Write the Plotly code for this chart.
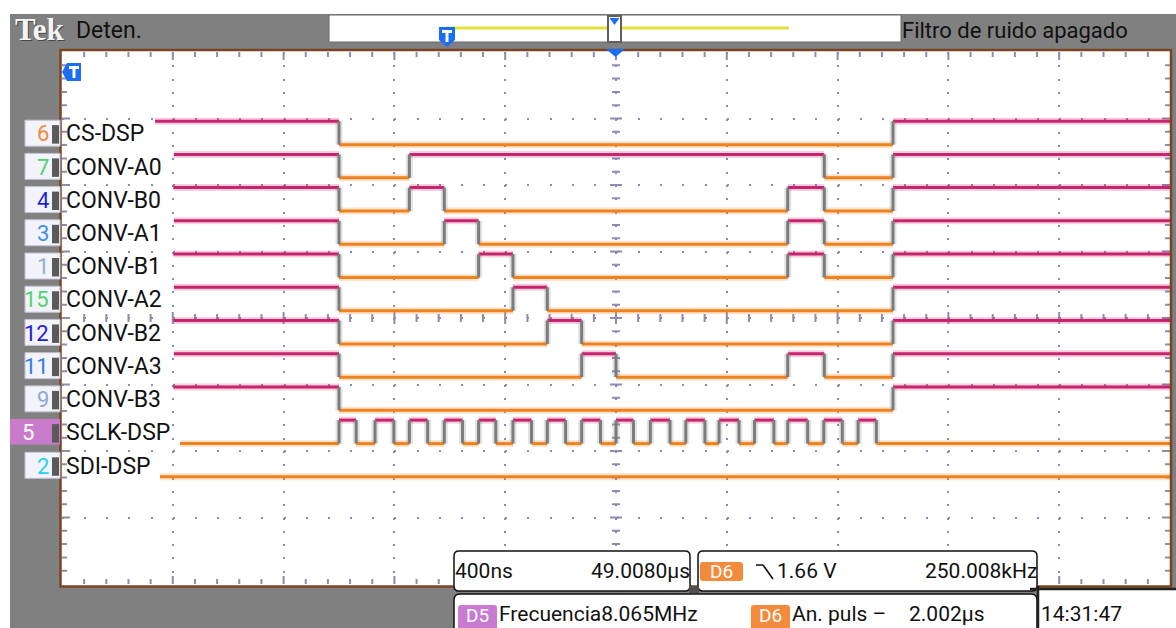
import plotly.graph_objects as go

# ---------------- data ----------------
channel_names = ["CS-DSP", "CONV-A0", "CONV-B0", "CONV-A1", "CONV-B1", "CONV-A2",
                 "CONV-B2", "CONV-A3", "CONV-B3", "SCLK-DSP", "SDI-DSP"]
channel_numbers = ["6", "7", "4", "3", "1", "15", "12", "11", "9", "5", "2"]
number_colors = ["#f28a3c", "#4fd36b", "#1f1fe0", "#3f8fe8", "#8fb0d4", "#4fd36b",
                 "#1f1fe0", "#2f7fe8", "#8fa8cc", "#ffffff", "#1fd3f0"]
initial_state = [1, 1, 1, 1, 1, 1, 1, 1, 1, 0, 0]
trace_start_ns = [-1664, -1596, -1598, -1596, -1598, -1596, -1598, -1596, -1598, -1574, -1646]
sclk_rise_ns = [-1000, -870, -746, -620, -496, -372, -248, -124, 0, 124, 252, 372, 500, 620, 750, 874]
sclk_fall_ns = [-938, -802, -680, -554, -434, -305, -182, -56, 63, 195, 321, 444, 570, 692, 817, 940]
edges_ns = [
    [-1000, 1000],                             # CS-DSP
    [-1000, -746, 752, 1000],                  # CONV-A0
    [-1000, -746, -620, 620, 752, 1000],       # CONV-B0
    [-1000, -620, -496, 620, 752, 1000],       # CONV-A1
    [-1000, -496, -372, 620, 752, 1000],       # CONV-B1
    [-1000, -372, -248, 1000],                 # CONV-A2
    [-1000, -248, -124, 1000],                 # CONV-B2
    [-1000, -124, 0, 620, 752, 1000],          # CONV-A3
    [-1000, 1000],                             # CONV-B3
    sorted(sclk_rise_ns + sclk_fall_ns),       # SCLK-DSP
    [],                                        # SDI-DSP
]
selected_channel = "5"
readout_timebase = "400ns"
readout_position = "49.0080µs"
readout_trigger_level = "1.66 V"
readout_trigger_freq = "250.008kHz"
meas1_label, meas1_value = "Frecuencia", "8.065MHz"
meas2_label, meas2_value = "An. puls –", "2.002µs"
clock_text = "14:31:47"

# ---------------- geometry / style ----------------
W, H = 1176, 628
PL, PR, PT, PB = 62, 1170, 52, 584
X_RANGE = (-2000, 2000)      # ns, 400 ns / div, 10 div
Y_RANGE = (8, 0)             # divisions from top
CH_TOP0, CH_STEP, CH_AMP = 1.04, 0.4995, 0.353
FONT = "Roboto, DejaVu Sans, sans-serif"
HIGH_C, LOW_C, EDGE_C = "#c8246e", "#f0821e", "#7c7c7c"
GRID_C = "#8c8cae"
BLUE = "#1a6ef5"
BROWN = "#7a4422"


def fx(x):
    return (x - PL) / (PR - PL)


def fy(y):
    return 1 - (y - PT) / (PB - PT)


def div2px(d):
    return PT + d * (PB - PT) / (Y_RANGE[0] - Y_RANGE[1])


def rgba(hexc, a):
    h = hexc.lstrip("#")
    return "rgba(%d,%d,%d,%.2f)" % (int(h[0:2], 16), int(h[2:4], 16), int(h[4:6], 16), a)


# ---------------- waveform traces ----------------
hx, hy, lx, ly, ex, ey = [], [], [], [], [], []
for i in range(len(channel_names)):
    top = CH_TOP0 + CH_STEP * i
    levels = {1: top, 0: top + CH_AMP}
    state = initial_state[i]
    t0 = trace_start_ns[i]
    for t in edges_ns[i] + [X_RANGE[1]]:
        xs, ys = (hx, hy) if state else (lx, ly)
        xs += [t0, t, None]
        ys += [levels[state], levels[state], None]
        if t != X_RANGE[1]:
            ex += [t, t, None]
            ey += [top, top + CH_AMP, None]
            state ^= 1
        t0 = t

fig = go.Figure()
for xs, ys, c in [(lx, ly, LOW_C), (hx, hy, HIGH_C), (ex, ey, EDGE_C)]:
    fig.add_trace(go.Scatter(x=xs, y=ys, mode="lines", hoverinfo="skip",
                             line=dict(color=rgba(c, 0.22), width=7)))
for xs, ys, c in [(lx, ly, LOW_C), (hx, hy, HIGH_C), (ex, ey, EDGE_C)]:
    fig.add_trace(go.Scatter(x=xs, y=ys, mode="lines", hoverinfo="skip",
                             line=dict(color=c, width=3)))

# ---------------- shapes ----------------
shapes = []


def rect(x0, y0, x1, y1, fill, line=None, lw=0, layer="above"):
    shapes.append(dict(type="rect", xref="paper", yref="paper",
                       x0=fx(x0), x1=fx(x1), y0=fy(y1), y1=fy(y0),
                       fillcolor=fill, layer=layer,
                       line=dict(color=line or "rgba(0,0,0,0)", width=lw)))


def path(pts_list, fill=None, line=None, lw=0, closed=True, layer="above"):
    s = ""
    for pts in pts_list:
        s += "M" + "L".join("%.5f,%.5f" % (fx(x), fy(y)) for x, y in pts)
        if closed:
            s += "Z"
    shapes.append(dict(type="path", xref="paper", yref="paper", path=s, layer=layer,
                       fillcolor=fill or "rgba(0,0,0,0)",
                       line=dict(color=line or "rgba(0,0,0,0)", width=lw)))


def segs(seglist, color, lw, layer="below"):
    s = "".join("M%.5f,%.5fL%.5f,%.5f" % (fx(a), fy(b), fx(c), fy(d)) for a, b, c, d in seglist)
    shapes.append(dict(type="path", xref="paper", yref="paper", path=s, layer=layer,
                       line=dict(color=color, width=lw)))


def rrect(x0, y0, x1, y1, r, fill, line=None, lw=0):
    s = ("M%.5f,%.5f" % (fx(x0 + r), fy(y0)) +
         "L%.5f,%.5f" % (fx(x1 - r), fy(y0)) +
         "Q%.5f,%.5f %.5f,%.5f" % (fx(x1), fy(y0), fx(x1), fy(y0 + r)) +
         "L%.5f,%.5f" % (fx(x1), fy(y1 - r)) +
         "Q%.5f,%.5f %.5f,%.5f" % (fx(x1), fy(y1), fx(x1 - r), fy(y1)) +
         "L%.5f,%.5f" % (fx(x0 + r), fy(y1)) +
         "Q%.5f,%.5f %.5f,%.5f" % (fx(x0), fy(y1), fx(x0), fy(y1 - r)) +
         "L%.5f,%.5f" % (fx(x0), fy(y0 + r)) +
         "Q%.5f,%.5f %.5f,%.5f" % (fx(x0), fy(y0), fx(x0 + r), fy(y0)) + "Z")
    shapes.append(dict(type="path", xref="paper", yref="paper", path=s, layer="above",
                       fillcolor=fill, line=dict(color=line or "rgba(0,0,0,0)", width=lw)))


# background
rect(10, 14, W + 2, H + 2, "#808080", layer="below")
rect(PL - 1, PT - 2, PR + 1, PB + 2, "#ffffff", layer="below")

# graticule ticks
dx = (PR - PL) / 50
dy = (PB - PT) / 40
cx = (PL + PR) / 2
cy = (PT + PB) / 2
tick_segs = []
for k in range(1, 50):
    x = PL + k * dx
    ln = 8 if k % 5 == 0 else 5
    tick_segs.append((x, PT, x, PT + ln))
    tick_segs.append((x, PB, x, PB - ln))
    cl = 6 if k % 5 == 0 else 4
    tick_segs.append((x, cy - cl, x, cy + cl))
for k in range(1, 40):
    y = PT + k * dy
    ln = 8 if k % 5 == 0 else 5
    tick_segs.append((PL, y, PL + ln, y))
    tick_segs.append((PR, y, PR - ln, y))
    cl = 6 if k % 5 == 0 else 4
    tick_segs.append((cx - cl, y, cx + cl, y))
segs(tick_segs, GRID_C, 2)

# plot border
rect(PL - 1.5, PT - 2, PR + 1, PB + 2.5, "rgba(0,0,0,0)", BROWN, 2.5)

# top bar
rect(329, 15, 901, 42, "#ffffff", "#6a6a6a", 1)
segs([(446, 28, 789, 28)], "#e2e23a", 3, layer="above")
path([[(439, 27), (455, 27), (455, 40), (447, 47), (439, 40)]], fill=BLUE)
rect(442, 30, 452, 33, "#ffffff")
rect(445.5, 30, 448.5, 42, "#ffffff")
rect(608, 16, 621, 42, "#ffffff", "#606060", 2)
path([[(609.5, 18), (619.5, 18), (614.5, 25)]], fill=BLUE)
path([[(606, PT - 3), (625, PT - 3), (615.5, PT + 5)]], fill=BLUE)
# reference marker top-left
path([[(62, 72), (67, 63), (81, 63), (81, 81), (67, 81)]], fill=BLUE)
rect(69, 66, 79, 69, "#ffffff")
rect(72.5, 66, 75.5, 78, "#ffffff")

# channel number boxes
for i, num in enumerate(channel_numbers):
    tp = div2px(CH_TOP0 + CH_STEP * i)
    lp = div2px(CH_TOP0 + CH_STEP * i + CH_AMP)
    if num == selected_channel:
        rect(10, tp - 1, 60, lp + 1, "#c97bcb")
    else:
        rect(25, tp - 1, 60, lp + 1.5, "#f3f3fb", "#c4c4d4", 1)
    rect(52, tp + 4, 59, lp - 1, "#5a5a5a")

# bottom readouts
rrect(454, 551, 690, 591, 5, "#ffffff", "#111111", 1.5)
rrect(698, 551, 1037, 591, 5, "#ffffff", "#111111", 1.5)
rect(689, 586, 699, 593, "#505050")
rrect(454, 594, 1037, 650, 6, "#ffffff", "#111111", 1.5)
rect(1038, 590, 1190, 650, "#ffffff")
segs([(1038, 586, 1038, 640), (1030, 589, 1176, 589)], "#222222", 2.5, layer="above")
rrect(700, 562, 743, 581, 3, "#f28c3c")
rrect(458, 605, 497, 632, 3, "#c97bd1")
rrect(751, 605, 790, 632, 3, "#f28c3c")
segs([(756, 565, 763, 565), (763, 565, 773, 579)], "#111111", 1.6, layer="above")

# ---------------- annotations ----------------
ann = []


def text(x, y, s, size=21, color="#111111", anchor="left", family=FONT):
    ann.append(dict(x=fx(x), y=fy(y), xref="paper", yref="paper", text=s,
                    showarrow=False, xanchor=anchor, yanchor="middle",
                    font=dict(family=family, size=size, color=color)))


text(14, 30, "<b>Tek</b>", size=31, color="#4a4a4a", family="Liberation Serif, serif")
text(13, 29, "<b>Tek</b>", size=31, color="#f4f4f4", family="Liberation Serif, serif")
text(74, 30, "Deten.", size=23)
text(900, 30, "Filtro de ruido apagado", size=22)

for i, (name, num, col) in enumerate(zip(channel_names, channel_numbers, number_colors)):
    tp = div2px(CH_TOP0 + CH_STEP * i)
    lp = div2px(CH_TOP0 + CH_STEP * i + CH_AMP)
    mid = (tp + lp) / 2 + 1
    text(64, mid, name, size=23)
    if num == selected_channel:
        text(28, mid, num, size=22, color=col, anchor="center")
    else:
        text(51, mid, num, size=22, color=col, anchor="right")

text(453, 571, readout_timebase, size=21)
text(692, 571, readout_position, size=21, anchor="right")
text(721.5, 571.5, "D6", size=19, color="#ffffff", anchor="center")
text(775, 571, readout_trigger_level, size=21)
text(1039, 571, readout_trigger_freq, size=21, anchor="right")
text(477.5, 615, "D5", size=19, color="#ffffff", anchor="center")
text(497, 614, meas1_label + meas1_value, size=21)
text(770.5, 615, "D6", size=19, color="#ffffff", anchor="center")
text(790, 614, meas2_label, size=21)
text(987, 614, meas2_value, size=21, anchor="right")
text(1039, 614, clock_text, size=21)

fig.update_layout(
    width=W, height=H, autosize=False,
    margin=dict(l=PL, r=W - PR, t=PT, b=H - PB, pad=0),
    paper_bgcolor="#ffffff", plot_bgcolor="#ffffff",
    showlegend=False, shapes=shapes, annotations=ann,
    xaxis=dict(range=list(X_RANGE), tickvals=[-1600 + 400 * k for k in range(9)],
               showticklabels=False, ticks="", zeroline=False, showline=False,
               showgrid=True, gridcolor=GRID_C, gridwidth=2,
               griddash="2px,%.2fpx" % (dy - 2), fixedrange=True),
    yaxis=dict(range=list(Y_RANGE), tickvals=list(range(1, 8)),
               showticklabels=False, ticks="", zeroline=False, showline=False,
               showgrid=True, gridcolor=GRID_C, gridwidth=2,
               griddash="2px,%.2fpx" % (dx - 2), fixedrange=True),
)

fig.write_html("out.html", config={"displayModeBar": False},
               post_script="document.body.style.margin='0';document.body.style.overflow='hidden';")
